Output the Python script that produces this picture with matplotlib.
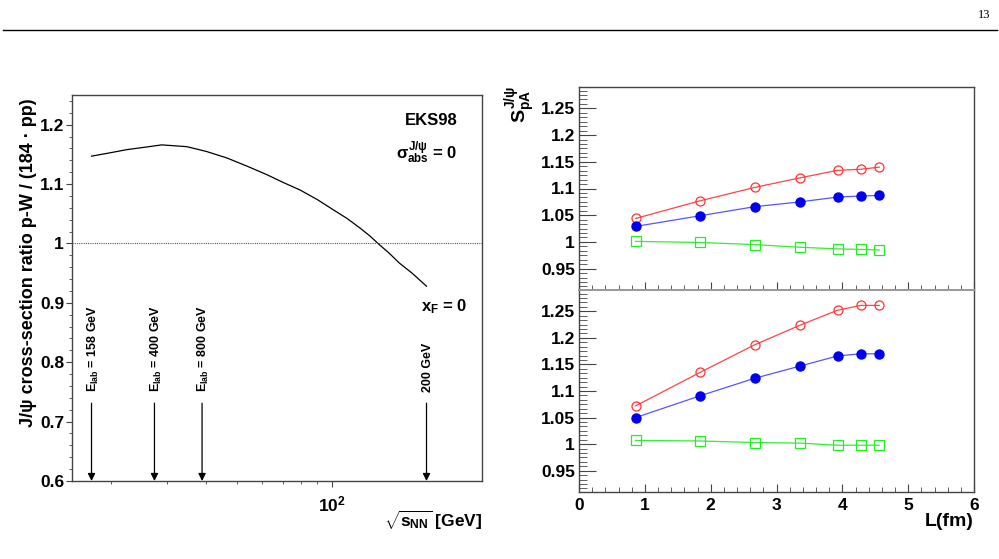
import matplotlib
matplotlib.use("Agg")
import matplotlib.pyplot as plt
from matplotlib.ticker import MultipleLocator, FixedLocator, NullFormatter
import numpy as np

plt.rcParams['font.family'] = ['Liberation Sans', 'DejaVu Sans']
plt.rcParams['font.weight'] = 'bold'
plt.rcParams['mathtext.fontset'] = 'custom'
plt.rcParams['mathtext.rm'] = 'Liberation Sans:bold'
plt.rcParams['mathtext.it'] = 'Liberation Sans:bold'
plt.rcParams['mathtext.bf'] = 'Liberation Sans:bold'
plt.rcParams['mathtext.sf'] = 'Liberation Sans:bold'

# ---------------- data: left panel (EKS98 curve) ----------------
sqrt_s = [17.3, 19.5, 22.4, 25.5, 28.9, 34.7, 40.0, 46.5, 54.0, 62.2, 70.0, 79.4,
          90.0, 101.0, 112.0, 123.0, 132.0, 141.0, 152.0, 164.0, 180.0, 200.0]
ratio = [1.147, 1.152, 1.158, 1.162, 1.166, 1.163, 1.155, 1.144, 1.130, 1.116, 1.103, 1.090,
         1.074, 1.057, 1.042, 1.026, 1.013, 0.999, 0.984, 0.967, 0.950, 0.928]
arrow_x = [17.3, 27.4, 38.8, 200.0]
arrow_labels = [r"E$_{\mathrm{lab}}$ = 158 GeV", r"E$_{\mathrm{lab}}$ = 400 GeV",
                r"E$_{\mathrm{lab}}$ = 800 GeV", "200 GeV"]

# ---------------- data: right panels ----------------
L_fm = [0.86, 1.84, 2.67, 3.36, 3.93, 4.28, 4.56]
top_red = [1.044, 1.077, 1.102, 1.120, 1.134, 1.136, 1.140]
top_blue = [1.029, 1.049, 1.066, 1.075, 1.084, 1.086, 1.087]
top_green = [1.001, 0.999, 0.995, 0.990, 0.987, 0.986, 0.985]
bot_red = [1.072, 1.135, 1.187, 1.224, 1.252, 1.261, 1.261]
bot_blue = [1.050, 1.091, 1.124, 1.147, 1.166, 1.170, 1.170]
bot_green = [1.007, 1.006, 1.003, 1.002, 0.998, 0.998, 0.998]

W, H = 999, 559
fig = plt.figure(figsize=(W / 100, H / 100), dpi=100)

def fx(px):
    return px / W

def fy(py):
    return 1 - py / H

# header
fig.text(fx(990), fy(15), "13", family='Liberation Serif', fontweight='normal',
         fontsize=9, ha='right', va='center')
fig.add_artist(plt.Line2D([fx(3), fx(997)], [fy(30), fy(30)], color='black', lw=1.0))

spine_col = '#444444'

# ---------------- left panel ----------------
axL = fig.add_axes([fx(72), fy(481), fx(482 - 72), (481 - 95) / H])
axL.set_xscale('log')
axL.set_xlim(15, 300)
axL.set_ylim(0.6, 1.25)
axL.plot(sqrt_s, ratio, color='black', lw=0.9)
axL.axhline(1.0, color='#555555', lw=0.8, ls=(0, (1, 1)))
for xv, lab in zip(arrow_x, arrow_labels):
    axL.annotate("", xy=(xv, 0.6), xytext=(xv, 0.731),
                 arrowprops=dict(arrowstyle='-|>', color='black', lw=0.9,
                                 mutation_scale=11, shrinkA=0, shrinkB=0))
    axL.text(xv * 1.012, 0.75, lab, rotation=90, ha='center', va='bottom', fontsize=9)
axL.text(0.876, 0.935, "EKS98", transform=axL.transAxes, ha='center', va='center', fontsize=12)
axL.text(0.866, 0.85, r"$\sigma^{J/\psi}_{abs}$ = 0", transform=axL.transAxes,
         ha='center', va='center', fontsize=12)
axL.text(0.907, 0.451, r"x$_{\mathrm{F}}$ = 0", transform=axL.transAxes,
         ha='center', va='center', fontsize=12)
axL.set_yticks([0.6, 0.7, 0.8, 0.9, 1.0, 1.1, 1.2])
axL.set_yticklabels(["0.6", "0.7", "0.8", "0.9", "1", "1.1", "1.2"])
axL.yaxis.set_minor_locator(MultipleLocator(0.02))
axL.xaxis.set_major_locator(FixedLocator([100]))
axL.set_xticklabels([r"10$^{2}$"])
axL.xaxis.set_minor_locator(FixedLocator([20, 30, 40, 50, 60, 70, 80, 90]))
axL.xaxis.set_minor_formatter(NullFormatter())
axL.tick_params(axis='both', which='both', direction='out', top=False, right=False,
                labelsize=12.5, color=spine_col)
axL.tick_params(axis='y', which='major', length=4.5, pad=1.2)
axL.tick_params(axis='y', which='minor', length=2.5)
axL.tick_params(axis='x', which='major', length=4.5, pad=5)
axL.tick_params(axis='x', which='minor', length=2.5)
for s in axL.spines.values():
    s.set_color(spine_col)
    s.set_linewidth(1.0)
fig.text(fx(29), fy(98), "J/\u03c8 cross-section ratio p-W / (184 \u00b7 pp)",
         rotation=90, ha='center', va='top', fontsize=13)
fig.text(fx(482), fy(520), r"$\sqrt{s_{NN}}$ [GeV]", ha='right', va='center', fontsize=12.5)

# ---------------- right panels ----------------
axT = fig.add_axes([fx(579), fy(290), fx(974 - 579), (290 - 87) / H])
axB = fig.add_axes([fx(579), fy(492), fx(974 - 579), (492 - 290) / H])

def style_right(ax, red, blue, green, show_x):
    ax.plot(L_fm, red, color='#ff4444', lw=0.9, marker='o', ms=6.5, mfc='none',
            mec='#ff3333', mew=0.9)
    ax.plot(L_fm, blue, color='#5555ff', lw=0.9, marker='o', ms=6.5, mfc='#0000ee',
            mec='#0000ee')
    ax.plot(L_fm, green, color='#33ee33', lw=0.9, marker='s', ms=6.5, mfc='none',
            mec='#22ee22', mew=0.9)
    ax.set_xlim(0, 6)
    ax.set_ylim(0.91, 1.29)
    ax.set_yticks([0.95, 1.0, 1.05, 1.1, 1.15, 1.2, 1.25])
    ax.set_yticklabels(["0.95", "1", "1.05", "1.1", "1.15", "1.2", "1.25"])
    ax.yaxis.set_minor_locator(MultipleLocator(0.05 / 6))
    ax.xaxis.set_major_locator(MultipleLocator(1))
    ax.xaxis.set_minor_locator(MultipleLocator(0.2))
    ax.tick_params(axis='both', which='both', direction='in', top=False, right=False,
                   labelsize=12.5, color=spine_col)
    ax.tick_params(axis='y', which='major', length=12, pad=3)
    ax.tick_params(axis='y', which='minor', length=6)
    ax.tick_params(axis='x', which='major', length=6, pad=4)
    ax.tick_params(axis='x', which='minor', length=3.5)
    if not show_x:
        ax.set_xticklabels([])
    for s in ax.spines.values():
        s.set_color(spine_col)
        s.set_linewidth(1.0)

style_right(axT, top_red, top_blue, top_green, False)
style_right(axB, bot_red, bot_blue, bot_green, True)
axT.spines['bottom'].set_color('#999999')
axB.spines['top'].set_color('#999999')
axT.spines['bottom'].set_linewidth(1.4)
axB.spines['top'].set_linewidth(1.4)

fig.text(fx(974), fy(522), "L(fm)", ha='right', va='center', fontsize=14)
fig.text(fx(521), fy(86), r"$S^{J/\psi}_{pA}$", rotation=90, ha='center', va='top', fontsize=14)

fig.savefig("out.png", dpi=100)
